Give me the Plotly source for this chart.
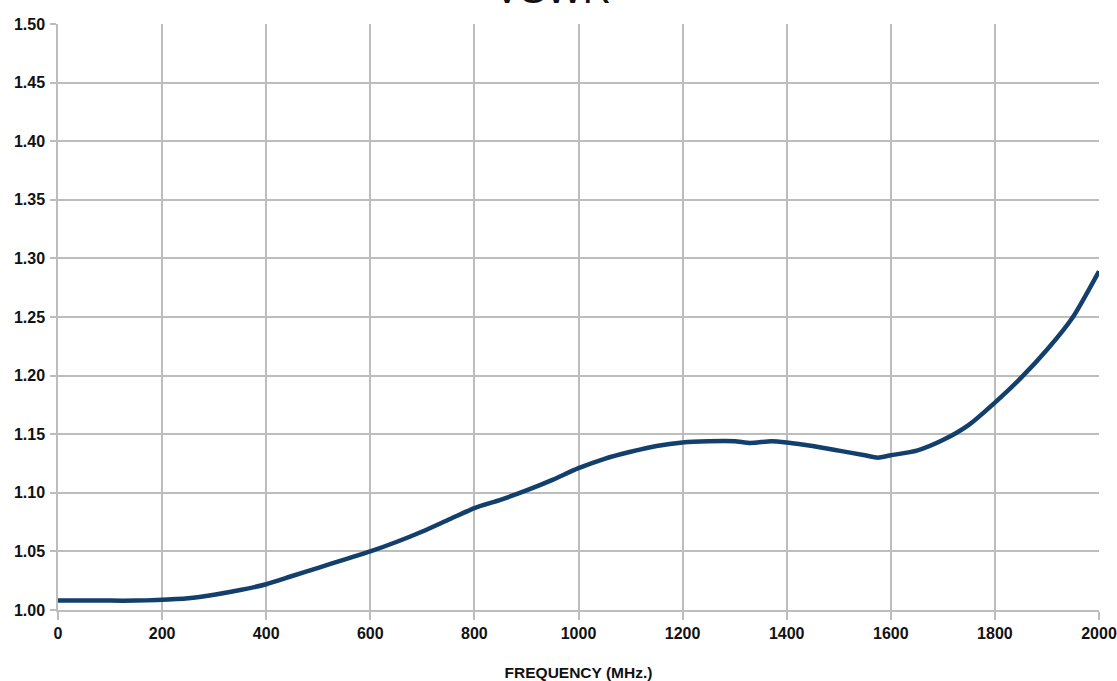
import plotly.graph_objects as go

freq = [0, 50, 100, 150, 190, 250, 300, 350, 400, 450, 500, 550, 600, 650, 700,
        750, 800, 850, 900, 950, 1000, 1050, 1100, 1150, 1200, 1250, 1300, 1330, 1370,
        1400, 1450, 1500, 1550, 1575, 1600, 1650, 1700, 1750, 1800, 1850, 1900, 1950, 2000]
vswr = [1.008, 1.008, 1.008, 1.008, 1.0085, 1.010, 1.013, 1.017, 1.022, 1.029,
        1.036, 1.043, 1.050, 1.058, 1.067, 1.077, 1.087, 1.094, 1.102, 1.111, 1.121,
        1.129, 1.135, 1.140, 1.143, 1.144, 1.144, 1.1425, 1.144, 1.143, 1.140, 1.136,
        1.132, 1.130, 1.132, 1.136, 1.145, 1.158, 1.177, 1.198, 1.222, 1.250, 1.289]

x_ticks = list(range(0, 2001, 200))
y_ticks = [1.00, 1.05, 1.10, 1.15, 1.20, 1.25, 1.30, 1.35, 1.40, 1.45, 1.50]

FONT = "Liberation Sans, Arial, sans-serif"

fig = go.Figure()
fig.add_trace(go.Scatter(x=freq, y=vswr, mode="lines",
                         line=dict(color="#123f6c", width=4.5, shape="spline", smoothing=0.6),
                         showlegend=False))

tick_font = dict(family=FONT, size=16, color="#111111", weight="bold")
fig.update_xaxes(range=[0, 2000], tickvals=x_ticks, showgrid=True, gridcolor="#bdbdbd",
                 gridwidth=1.5, showline=True, linecolor="#bdbdbd", linewidth=1.5,
                 ticks="outside", ticklen=8, tickcolor="#bdbdbd", tickwidth=1.5,
                 tickfont=tick_font, zeroline=False, automargin=False,
                 title=dict(text="FREQUENCY (MHz.)",
                            font=dict(family=FONT, size=15.5, color="#111111", weight="bold"),
                            standoff=27))
fig.update_yaxes(range=[1.0, 1.5], tickvals=y_ticks, tickformat=".2f", showgrid=True,
                 gridcolor="#bdbdbd", gridwidth=1.5, showline=True, linecolor="#bdbdbd",
                 linewidth=1.5, ticks="outside", ticklen=6, tickcolor="#bdbdbd", tickwidth=1.5,
                 tickfont=tick_font, zeroline=False, automargin=False, ticklabelstandoff=2)

fig.update_layout(
    width=1117, height=681,
    margin=dict(l=58, r=18, t=24, b=71),
    plot_bgcolor="white", paper_bgcolor="white",
    font=dict(family=FONT),
    annotations=[dict(text="VSWR", xref="paper", yref="paper", x=0.475, y=1.0 + 35 / 586,
                      xanchor="center", yanchor="middle", showarrow=False,
                      font=dict(family=FONT, size=39, color="#111111"))],
)

fig.write_html("out.html", config={"displayModeBar": False},
               post_script="document.body.style.margin='0';")
